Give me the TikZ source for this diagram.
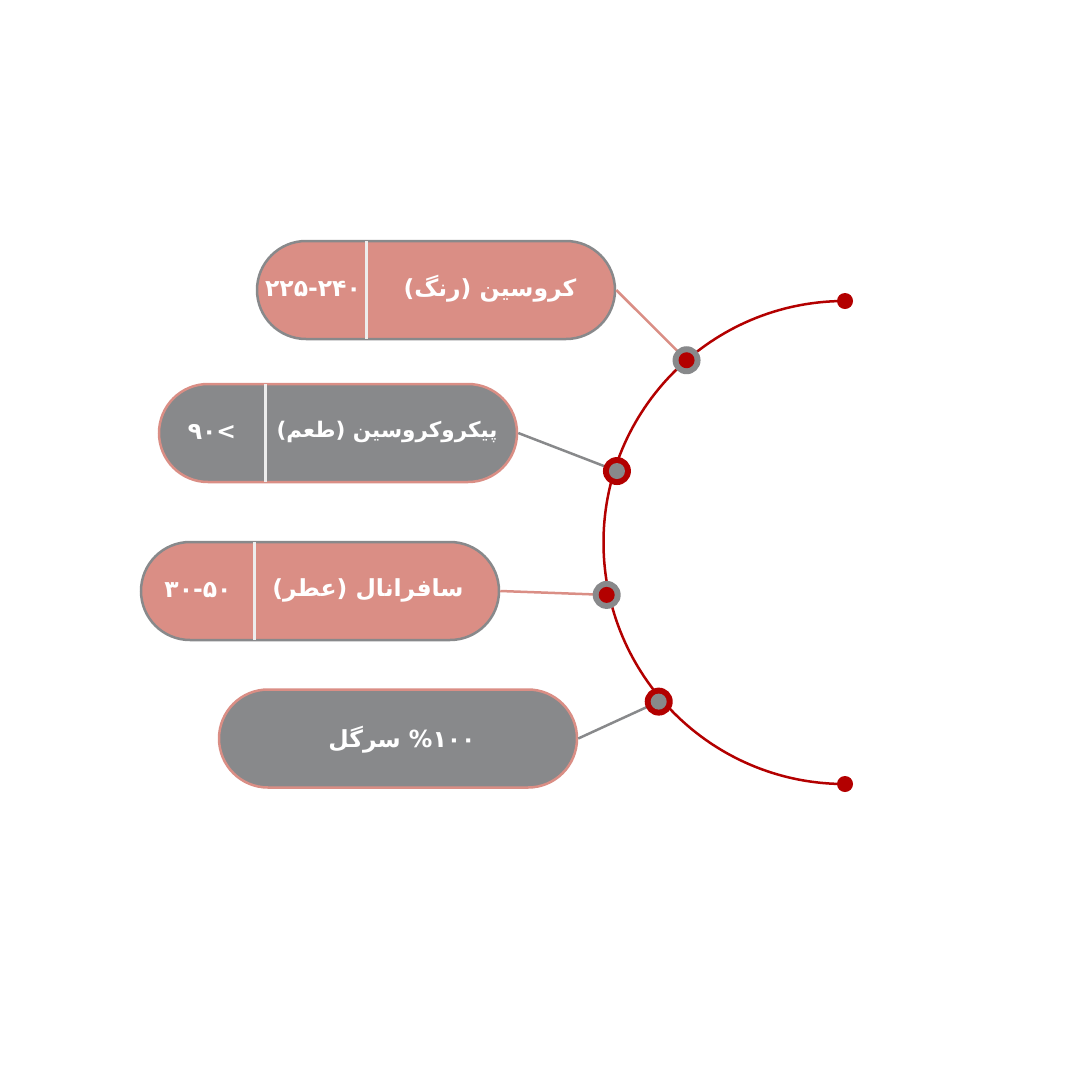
\documentclass[tikz,border=0pt]{standalone}
\usepackage{fontspec}
\newfontfamily\farsi[Script=Arabic]{DejaVu Sans}
\TeXXeTstate=1
\usetikzlibrary{calc}
\definecolor{salmon}{HTML}{DA8E85}
\definecolor{greyish}{HTML}{88898B}
\definecolor{darkred}{HTML}{B30000}
\definecolor{divline}{HTML}{EDEDED}
\begin{document}
\begin{tikzpicture} [x=1pt,y=-1pt,font=\farsi\bfseries\fontsize{23.5}{28}\selectfont,
	pill/.style={rounded corners=49pt,minimum width=358pt,minimum height=98pt,line width=2.5pt,inner sep=0pt},
	lab/.style={text=white,inner sep=0pt},
	link/.style={line width=2.5pt}]
		\useasboundingbox (0,0) rectangle (1080,1080);
		\coordinate (c) at (845,542.5);
		\coordinate (top) at (845,301);
		\coordinate (bot) at (845,784);
		\coordinate (p1) at ($(c)+(229:241.5)$);
		\coordinate (p2) at ($(c)+(197.4:239)$);
		\coordinate (p3) at ($(c)+(167.6:244)$);
		\coordinate (p4) at ($(c)+(139.5:245)$);
		% pills
		\node [pill,fill=salmon,draw=greyish] (k1) at (436,290) {};
		\node [pill,fill=greyish,draw=salmon] (k2) at (338,433) {};
		\node [pill,fill=salmon,draw=greyish] (k3) at (320,591) {};
		\node [pill,fill=greyish,draw=salmon] (k4) at (398,738.5) {};
		\draw [divline,line width=3pt] ($(k1.north west)+(111,1.25)$) -- ($(k1.south west)+(111,-1.25)$);
		\draw [divline,line width=3pt] ($(k2.north west)+(108,1.25)$) -- ($(k2.south west)+(108,-1.25)$);
		\draw [divline,line width=3pt] ($(k3.north west)+(115,1.25)$) -- ($(k3.south west)+(115,-1.25)$);
		\node [lab] (t1) at (490,289) {\beginR کروسین (رنگ)\endR};
		\node [lab] (n1) at (313,289) {\beginL ۲۲۵-۲۴۰\endL};
		\node [lab,font=\farsi\bfseries\fontsize{21.5}{26}\selectfont] (t2) at (387,432) {\beginR پیکروکروسین (طعم)\endR};
		\node [lab] (n2) at (212,432) {\beginR >۹۰\endR};
		\node [lab] (t3) at (368,590) {\beginR سافرانال (عطر)\endR};
		\node [lab] (n3) at (198,590) {\beginL ۳۰-۵۰\endL};
		\node [lab] (t4) at (402,740) {\beginR\beginL\%۱۰۰\endL{} سرگل\endR};
		% connectors
		\draw [link,salmon] (k1.east) -- (p1);
		\draw [link,greyish] (k2.east) -- (p2);
		\draw [link,salmon] (k3.east) -- (p3);
		\draw [link,greyish] (k4.east) -- (p4);
		% arc
		\draw [darkred,line width=2.5pt] (top) arc [start angle=270,end angle=90,radius=241.5];
		\fill [darkred] (top) circle (8pt);
		\fill [darkred] (bot) circle (8pt);
		\fill [greyish] (p1) circle (14pt);
		\fill [darkred] (p1) circle (8pt);
		\fill [darkred] (p2) circle (14pt);
		\fill [greyish] (p2) circle (8pt);
		\fill [greyish] (p3) circle (14pt);
		\fill [darkred] (p3) circle (8pt);
		\fill [darkred] (p4) circle (14pt);
		\fill [greyish] (p4) circle (8pt);
\end{tikzpicture}
\end{document}
